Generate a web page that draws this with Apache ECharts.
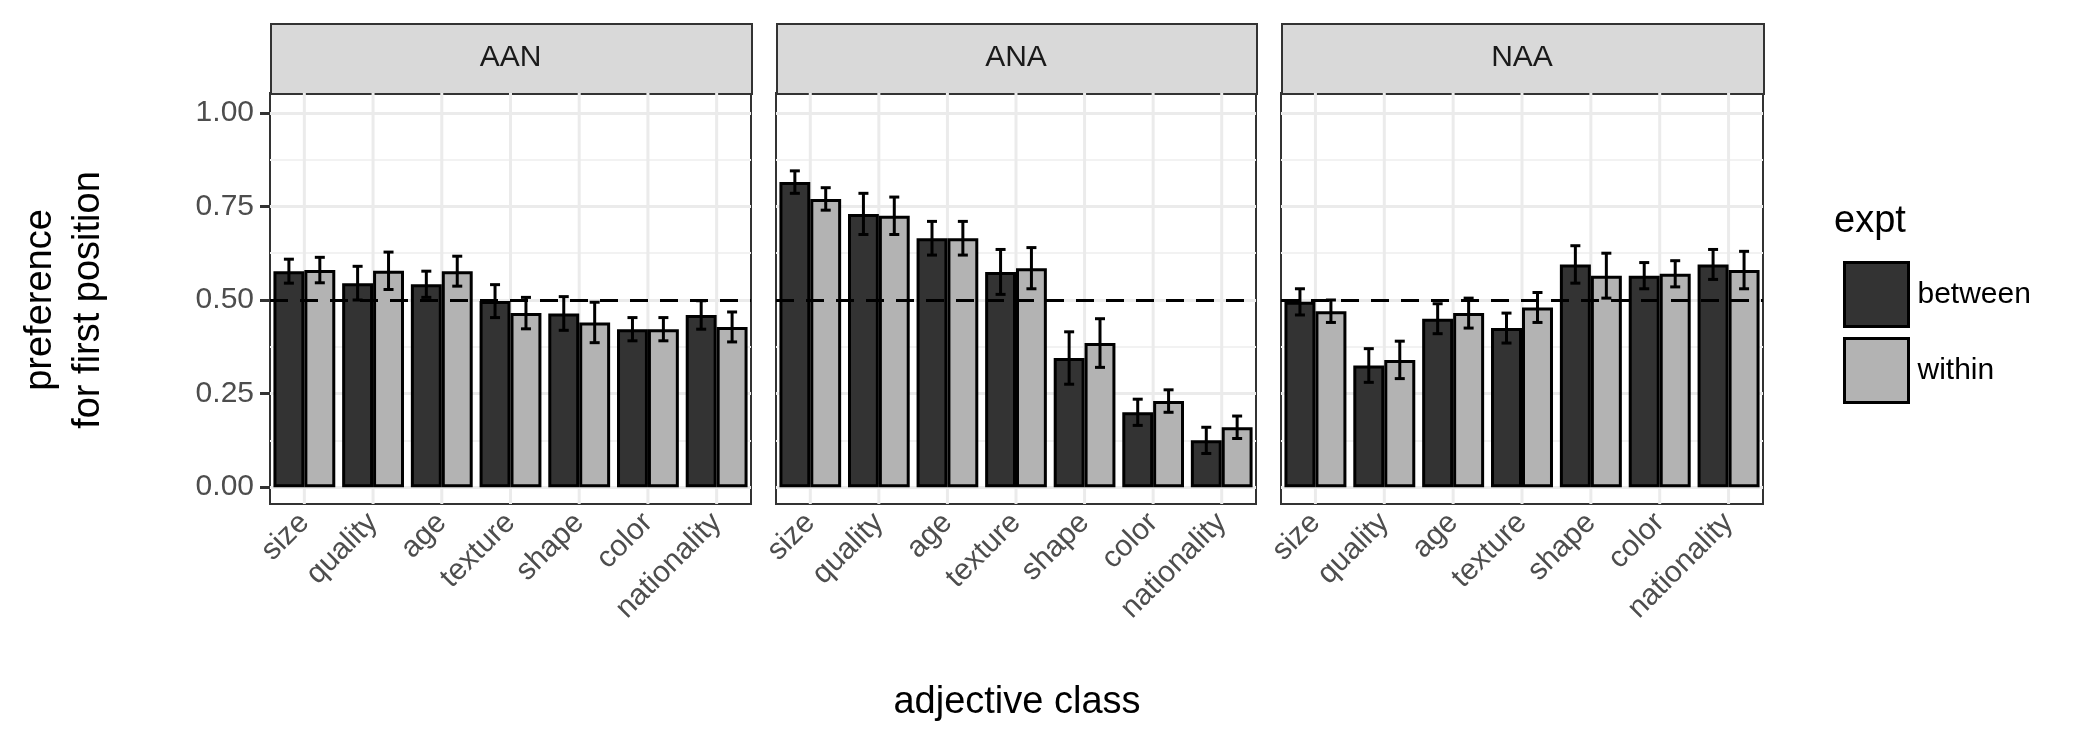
<!DOCTYPE html>
<html><head><meta charset="utf-8">
<script src="https://cdn.jsdelivr.net/npm/echarts@6/dist/echarts.min.js"></script>
<style>html,body{margin:0;padding:0;background:#fff}#c{width:2100px;height:750px}</style>
</head><body><div id="c"></div>
<script>
const categories = ['size', 'quality', 'age', 'texture', 'shape', 'color', 'nationality'];
const panels = ['AAN', 'ANA', 'NAA'];
const betweenVals = [
  [0.577, 0.545, 0.542, 0.497, 0.464, 0.422, 0.46],
  [0.815, 0.73, 0.665, 0.575, 0.345, 0.20, 0.125],
  [0.495, 0.325, 0.45, 0.425, 0.595, 0.565, 0.595]
];
const withinVals = [
  [0.58, 0.578, 0.577, 0.465, 0.44, 0.422, 0.428],
  [0.77, 0.725, 0.665, 0.585, 0.385, 0.23, 0.16],
  [0.47, 0.34, 0.465, 0.48, 0.565, 0.57, 0.58]
];
const betweenErr = [
  [0.032, 0.045, 0.035, 0.044, 0.045, 0.031, 0.038],
  [0.03, 0.055, 0.045, 0.06, 0.07, 0.035, 0.035],
  [0.035, 0.045, 0.04, 0.04, 0.05, 0.035, 0.04]
];
const withinErr = [
  [0.034, 0.05, 0.04, 0.042, 0.054, 0.031, 0.04],
  [0.03, 0.05, 0.045, 0.055, 0.065, 0.03, 0.03],
  [0.03, 0.05, 0.04, 0.04, 0.06, 0.035, 0.05]
];
const yTicks = [0, 0.25, 0.5, 0.75, 1];
const yMinor = [0.125, 0.375, 0.625, 0.875];
const refLine = 0.5;

const gridPos = [[270, 481], [776, 480], [1281, 482]];
const TOP = 93, H = 411, YMIN = -0.045, YMAX = 1.053;
const DARK = '#333333', LIGHT = '#b3b3b3';

const grids = [], xAxes = [], yAxes = [], series = [], graphics = [];

function errRender(side) {
  return function (params, api) {
    const band = api.size([1, 0])[0];
    const off = side * band * 0.9 / 4;
    const c = api.coord([api.value(0), api.value(1)]);
    const lo = api.coord([api.value(0), api.value(1) - api.value(2)]);
    const hi = api.coord([api.value(0), api.value(1) + api.value(2)]);
    const x = c[0] + off, w = 5;
    const st = { stroke: '#000', lineWidth: 3 };
    return { type: 'group', children: [
      { type: 'line', shape: { x1: x, y1: lo[1], x2: x, y2: hi[1] }, style: st },
      { type: 'line', shape: { x1: x - w, y1: lo[1], x2: x + w, y2: lo[1] }, style: st },
      { type: 'line', shape: { x1: x - w, y1: hi[1], x2: x + w, y2: hi[1] }, style: st }
    ]};
  };
}

panels.forEach((p, i) => {
  const [left, width] = gridPos[i];
  grids.push({ left, top: TOP, width, height: H, show: true, borderColor: '#333', borderWidth: 2, backgroundColor: '#fff' });
  xAxes.push({
    type: 'category', gridIndex: i, data: categories,
    axisLine: { show: false },
    axisTick: { alignWithLabel: true, length: 10, lineStyle: { color: '#333', width: 3 } },
    axisLabel: { rotate: 45, fontSize: 30, color: '#4d4d4d', fontFamily: 'Liberation Sans', margin: 14 },
    splitLine: { show: false }
  });
  yAxes.push({
    type: 'value', gridIndex: i, min: YMIN, max: YMAX,
    axisLine: { show: false },
    axisTick: { show: i === 0, length: 10, lineStyle: { color: '#333', width: 3 }, customValues: yTicks },
    axisLabel: { show: i === 0, fontSize: 30, color: '#4d4d4d', fontFamily: 'Liberation Sans', margin: 16,
      customValues: yTicks, formatter: v => v.toFixed(2) },
    splitLine: { show: true, lineStyle: { color: '#ebebeb', width: 3 } }
  });
  yAxes.push({
    type: 'value', gridIndex: i, min: YMIN, max: YMAX, position: 'left',
    axisLine: { show: false }, axisLabel: { show: false },
    axisTick: { show: false, customValues: yMinor },
    splitLine: { show: true, lineStyle: { color: '#f2f2f2', width: 2 } }
  });
  const yi = i * 2;
  series.push({
    type: 'custom', xAxisIndex: i, yAxisIndex: yi, silent: true, z: 1,
    data: categories.map((c, k) => [k]),
    renderItem: (params, api) => {
      const top = api.coord([api.value(0), YMAX]);
      const bot = api.coord([api.value(0), YMIN]);
      return { type: 'line', shape: { x1: top[0], y1: top[1], x2: bot[0], y2: bot[1] }, style: { stroke: '#ebebeb', lineWidth: 3 } };
    }
  });
  series.push({
    name: 'between', type: 'bar', xAxisIndex: i, yAxisIndex: yi, z: 2,
    data: betweenVals[i], barGap: '0%', barCategoryGap: '10%',
    itemStyle: { color: DARK, borderColor: '#000', borderWidth: 3 },
    markLine: { silent: true, symbol: 'none', label: { show: false }, z: 5,
      lineStyle: { color: '#000', type: [18, 12], width: 3 }, data: [{ yAxis: refLine }] }
  });
  series.push({
    name: 'within', type: 'bar', xAxisIndex: i, yAxisIndex: yi, z: 2,
    data: withinVals[i],
    itemStyle: { color: LIGHT, borderColor: '#000', borderWidth: 3 }
  });
  series.push({
    type: 'custom', xAxisIndex: i, yAxisIndex: yi, z: 6, silent: true,
    data: betweenVals[i].map((v, k) => [k, v, betweenErr[i][k]]),
    renderItem: errRender(-1)
  });
  series.push({
    type: 'custom', xAxisIndex: i, yAxisIndex: yi, z: 6, silent: true,
    data: withinVals[i].map((v, k) => [k, v, withinErr[i][k]]),
    renderItem: errRender(1)
  });
  graphics.push({ type: 'rect', left, top: 23, shape: { width, height: 70 },
    style: { fill: '#d9d9d9', stroke: '#333', lineWidth: 2 } });
  graphics.push({ type: 'text', x: left + width / 2, y: 58,
    style: { text: p, fontSize: 30, fill: '#1a1a1a', fontFamily: 'Liberation Sans', align: 'center', verticalAlign: 'middle' } });
});

graphics.push({ type: 'text', x: 65, y: 300, rotation: Math.PI / 2,
  style: { text: 'preference\nfor first position', fontSize: 38, lineHeight: 48, fill: '#000',
    fontFamily: 'Liberation Sans', align: 'center', verticalAlign: 'middle' } });
graphics.push({ type: 'text', x: 1017, y: 703,
  style: { text: 'adjective class', fontSize: 38, fill: '#000', fontFamily: 'Liberation Sans', align: 'center', verticalAlign: 'middle' } });
graphics.push({ type: 'text', x: 1834, y: 222,
  style: { text: 'expt', fontSize: 38, fill: '#000', fontFamily: 'Liberation Sans', align: 'left', verticalAlign: 'middle' } });

const chart = echarts.init(document.getElementById('c'), null, { renderer: 'canvas' });
chart.setOption({
  animation: false,
  backgroundColor: '#fff',
  grid: grids, xAxis: xAxes, yAxis: yAxes, series,
  legend: {
    data: ['between', 'within'], orient: 'vertical', left: 1838, top: 256,
    itemWidth: 64, itemHeight: 64, itemGap: 9, icon: 'rect',
    itemStyle: { borderColor: '#000', borderWidth: 3 },
    textStyle: { fontSize: 30, color: '#000', fontFamily: 'Liberation Sans', padding: [0, 0, 0, 4] },
    selectedMode: false
  },
  graphic: graphics
});
</script></body></html>
